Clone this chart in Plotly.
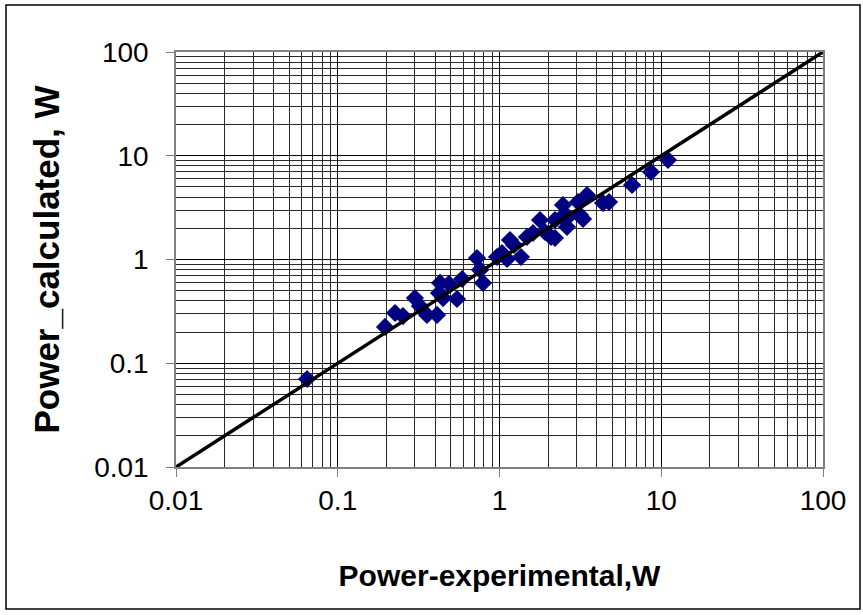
import plotly.graph_objects as go

# Experimental vs calculated power (W)
power_experimental = [0.0646, 0.196, 0.226, 0.253, 0.300, 0.322, 0.356, 0.411, 0.429, 0.423,
                      0.448, 0.487, 0.546, 0.587, 0.726, 0.758, 0.791, 0.965, 1.036, 1.113,
                      1.161, 1.229, 1.358, 1.479, 1.611, 1.780, 1.911, 2.082, 2.203, 2.203,
                      2.434, 2.469, 2.614, 2.652, 3.057, 3.146, 3.283, 3.475, 4.364, 4.753,
                      6.597, 8.644, 11.01]
power_calculated = [0.0705, 0.224, 0.305, 0.285, 0.425, 0.356, 0.292, 0.292, 0.594, 0.475,
                    0.425, 0.581, 0.416, 0.649, 1.034, 0.793, 0.594, 1.057, 1.155, 1.011,
                    1.542, 1.380, 1.057, 1.648, 1.801, 2.403, 1.841, 1.648, 2.403, 1.612,
                    2.568, 3.353, 2.058, 2.568, 3.583, 2.685, 2.457, 4.184, 3.504, 3.583,
                    5.224, 6.972, 9.100]

# Ideal line y = x
line_x = [0.01, 100]
line_y = [0.01, 100]

tick_vals = [0.01, 0.1, 1, 10, 100]
tick_text = ["0.01", "0.1", "1", "10", "100"]

FONT = "Liberation Sans, Arial, sans-serif"

fig = go.Figure()
fig.add_trace(go.Scatter(
    x=power_experimental, y=power_calculated, mode="markers",
    marker=dict(symbol="diamond", size=14, color="#000080", line=dict(width=0)),
    showlegend=False, cliponaxis=False))
fig.add_trace(go.Scatter(
    x=line_x, y=line_y, mode="lines",
    line=dict(color="black", width=3.5),
    showlegend=False))

axis_common = dict(
    type="log", range=[-2, 2],
    tickmode="array", tickvals=tick_vals, ticktext=tick_text,
    showgrid=True, gridcolor="black", gridwidth=1,
    showline=True, linecolor="#808080", linewidth=1.5, mirror=True,
    ticks="outside", ticklen=8, tickcolor="#808080", tickwidth=1,
    tickfont=dict(family=FONT, size=28, color="black"),
    minor=dict(dtick="D1", showgrid=True, gridcolor="#2a2a2a", gridwidth=1, ticks=""),
    zeroline=False,
)

fig.update_xaxes(**axis_common,
                 title=dict(text="<b>Power-experimental,W</b>",
                            font=dict(family=FONT, size=30, color="black"),
                            standoff=50))
fig.update_yaxes(**axis_common, ticklabelstandoff=12,
                 title=dict(text="<b>Power_calculated, W</b>",
                            font=dict(family=FONT, size=35, color="black"),
                            standoff=24))

L, R, T, B = 176, 40, 52, 148
W, H = 863, 615
pw, ph = W - L - R, H - T - B
fig.update_layout(
    width=W, height=H,
    margin=dict(l=L, r=R, t=T, b=B, pad=0),
    paper_bgcolor="white", plot_bgcolor="white",
    font=dict(family=FONT, color="black"),
    shapes=[dict(type="rect", xref="paper", yref="paper",
                 x0=(6 - L) / pw, x1=(860 - L) / pw,
                 y0=(H - B - 609) / ph, y1=(H - B - 5) / ph,
                 line=dict(color="black", width=1.5), layer="below")],
)

fig.write_html("out.html")
